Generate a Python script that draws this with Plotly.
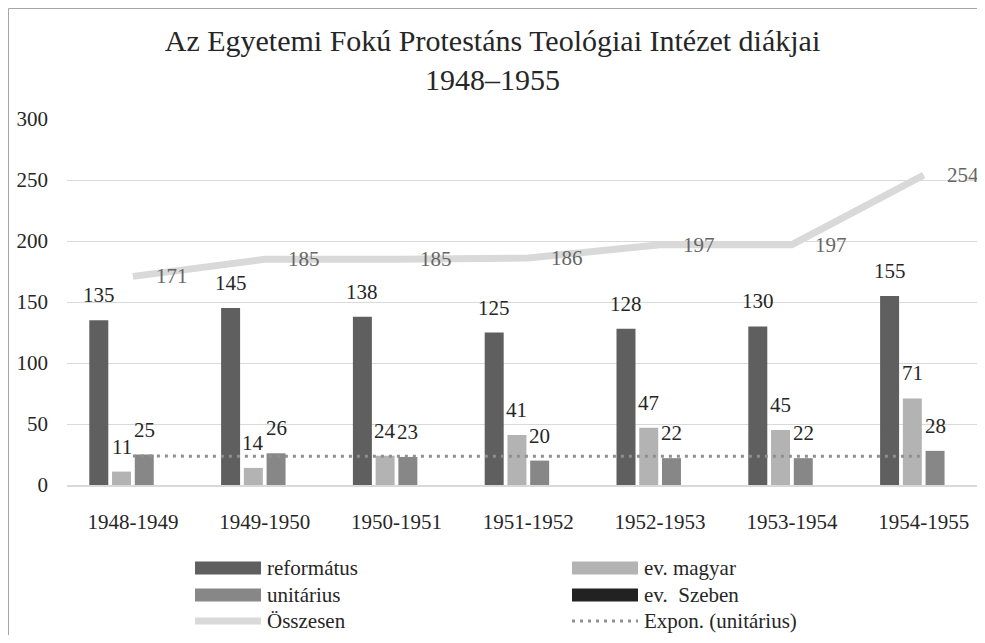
import numpy as np
import plotly.graph_objects as go

categories = ["1948-1949", "1949-1950", "1950-1951", "1951-1952", "1952-1953", "1953-1954", "1954-1955"]
reformatus = [135, 145, 138, 125, 128, 130, 155]
ev_magyar = [11, 14, 24, 41, 47, 45, 71]
unitarius = [25, 26, 23, 20, 22, 22, 28]
ev_szeben = [0, 0, 0, 0, 0, 0, 0]
osszesen = [171, 185, 185, 186, 197, 197, 254]

title_text = "Az Egyetemi Fokú Protestáns Teológiai Intézet diákjai<br>1948–1955"
FONT = "Liberation Serif, 'Times New Roman', serif"

# exponential trendline of unitárius (least squares on log values)
xi = np.arange(1, len(unitarius) + 1)
b, a = np.polyfit(xi, np.log(unitarius), 1)
trend = list(np.exp(a + b * xi))

OFF = 8  # page body margin
W, H = 985 - 2 * OFF, 643 - 2 * OFF
ML, MR, MT, MB = 67 - OFF, 0, 119 - OFF, H - (485 - OFF)
PW, PH = W - ML - MR, H - MT - MB
CAT_PX = 131.8
XMAX = -0.5 + PW / CAT_PX


def px(x):  # reference screen x -> paper
    return (x - OFF - ML) / PW


def py(y):  # reference screen y -> paper
    return (H - MB - (y - OFF)) / PH


fig = go.Figure()
bar_series = [
    ("református", reformatus, "#5f5f5f"),
    ("ev. magyar", ev_magyar, "#b3b3b3"),
    ("unitárius", unitarius, "#878787"),
    ("ev.  Szeben", ev_szeben, "#222222"),
]
for name, vals, col in bar_series:
    fig.add_trace(go.Bar(x=categories, y=vals, name=name, marker=dict(color=col, line=dict(width=0)),
                         showlegend=False, hoverinfo="y+name"))

fig.add_trace(go.Scatter(x=categories, y=osszesen, name="Összesen", mode="lines",
                         line=dict(color="#d9d9d9", width=7), showlegend=False))
fig.add_trace(go.Scatter(x=categories, y=trend, name="Expon. (unitárius)", mode="lines",
                         line=dict(color="#8f8f8f", width=3, dash="3px,5px"), showlegend=False))

annotations = []
slot = 22.75
for i, (name, vals, col) in enumerate(bar_series[:3]):
    for c, v in zip(categories, vals):
        annotations.append(dict(x=c, y=v, xref="x", yref="y", text=str(v), showarrow=False,
                                xshift=(i - 1.5) * slot, yanchor="bottom", yshift=11,
                                font=dict(family=FONT, size=21, color="#262626")))
for c, v in zip(categories, osszesen):
    annotations.append(dict(x=c, y=v, xref="x", yref="y", text=str(v), showarrow=False,
                            xanchor="left", xshift=21, yanchor="middle",
                            font=dict(family=FONT, size=21, color="#666666")))

# manual legend
legend_items = [
    ("református", "bar", "#5f5f5f", 195, 568),
    ("ev. magyar", "bar", "#b3b3b3", 572, 568),
    ("unitárius", "bar", "#878787", 195, 595),
    ("ev.  Szeben", "bar", "#222222", 572, 595),
    ("Összesen", "line", "#d9d9d9", 195, 621),
    ("Expon. (unitárius)", "dot", "#8f8f8f", 572, 621),
]
shapes = []
for text, kind, col, x0, yc in legend_items:
    x1 = x0 + 66
    if kind == "bar":
        shapes.append(dict(type="rect", xref="paper", yref="paper", x0=px(x0), x1=px(x1),
                           y0=py(yc + 6.5), y1=py(yc - 6.5), fillcolor=col, line=dict(width=0)))
    elif kind == "line":
        shapes.append(dict(type="line", xref="paper", yref="paper", x0=px(x0), x1=px(x1),
                           y0=py(yc), y1=py(yc), line=dict(color=col, width=7)))
    else:
        shapes.append(dict(type="line", xref="paper", yref="paper", x0=px(x0), x1=px(x1),
                           y0=py(yc), y1=py(yc), line=dict(color=col, width=3, dash="3px,5px")))
    annotations.append(dict(x=px(x1 + 4), y=py(yc), xref="paper", yref="paper", text=text,
                            showarrow=False, xanchor="left", yanchor="middle",
                            font=dict(family=FONT, size=21, color="#262626")))

# chart-area border: only top and left edges are visible in the cropped reference
shapes.append(dict(type="line", xref="paper", yref="paper", x0=px(8.5), x1=px(990),
                   y0=py(8.5), y1=py(8.5), line=dict(color="#a6a6a6", width=1), layer="below"))
shapes.append(dict(type="line", xref="paper", yref="paper", x0=px(8.5), x1=px(8.5),
                   y0=py(8.5), y1=py(650), line=dict(color="#a6a6a6", width=1), layer="below"))

fig.update_layout(
    width=W, height=H,
    margin=dict(l=ML, r=MR, t=MT, b=MB),
    paper_bgcolor="white", plot_bgcolor="white",
    barmode="group", bargap=0.31, bargroupgap=0.165,
    font=dict(family=FONT, size=21, color="#262626"),
    title=dict(text=title_text, x=0.5, xanchor="center", xref="container",
               y=1 - 43 / H, yanchor="top", yref="container",
               font=dict(family=FONT, size=30, color="#262626")),
    xaxis=dict(type="category", range=[-0.5, XMAX], showgrid=False, showline=True,
               linecolor="#d9d9d9", linewidth=1.5, ticks="", ticklabelstandoff=17,
               tickfont=dict(family=FONT, size=21, color="#262626")),
    yaxis=dict(range=[0, 300], dtick=50, showgrid=True, gridcolor="#d9d9d9", gridwidth=1,
               zeroline=False, showline=False, ticks="", ticklabelstandoff=18,
               tickfont=dict(family=FONT, size=21, color="#262626")),
    annotations=annotations, shapes=shapes,
    showlegend=False,
)

fig.write_html("out.html")
